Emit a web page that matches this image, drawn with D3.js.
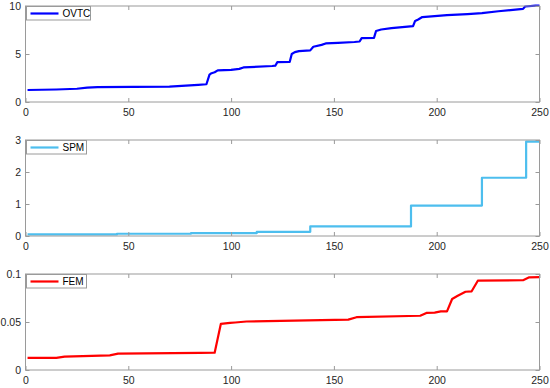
<!DOCTYPE html>
<html>
<head>
<meta charset="utf-8">
<script src="https://cdn.jsdelivr.net/npm/d3@7"></script>
<style>
  body { margin: 0; background: #fff; }
  svg { display: block; font-family: "Liberation Sans", Arial, sans-serif; }
</style>
</head>
<body>
<svg id="chart" width="550" height="388"></svg>
<script>
// breakpoints, [x, value]
const ovtc = [[1,1.25],[15,1.3],[25,1.38],[30,1.5],[35,1.55],[70,1.6],[78,1.7],[84,1.78],[88,1.85],
  [89.5,2.85],[90.5,3.0],[92,3.1],[93.5,3.3],[100,3.35],[104,3.45],[106,3.6],[120,3.75],[121.5,3.78],
  [122.5,4.15],[128.5,4.17],[129.5,5.0],[131,5.2],[133,5.3],[138.5,5.38],[140,5.75],[144,5.95],[146,6.1],
  [152,6.15],[160,6.25],[162.5,6.3],[163.5,6.65],[169.5,6.68],[170.5,7.4],[173,7.55],[178,7.7],[188.5,7.9],
  [189.5,8.45],[191,8.6],[193,8.85],[205,9.05],[215,9.15],[222,9.25],[230,9.45],[242,9.7],[243,9.95],
  [248,10.03],[250,10.05]];
const spm = [[1,0.05],[44.5,0.07],[80.5,0.09],[112.5,0.13],[138.5,0.3],[187.5,0.95],[222,1.82],[243.5,2.95],[250,2.95]];
const fem = [[1,0.0126],[15,0.0127],[19,0.014],[41,0.0153],[45,0.017],[85,0.0178],[92,0.018],[95,0.048],
  [99.5,0.049],[102,0.0495],[107.5,0.0505],[157,0.0525],[161,0.055],[192,0.0565],[195,0.0595],[199,0.0598],
  [202,0.061],[205,0.061],[207.5,0.074],[210,0.077],[214,0.0815],[217,0.082],[220,0.093],[242,0.0935],
  [245,0.0965],[250,0.0967]];

const xTicks = [0, 50, 100, 150, 200, 250];
const ovtcTicks = [0, 5, 10];
const spmTicks = [0, 1, 2, 3];
const femTicks = [0, 0.05, 0.1];

const svg = d3.select('#chart');
const x = d3.scaleLinear().domain([0, 250]).range([25.5, 539.5]);

function panel(data, name, color, ymax, yTicks, top, step) {
  let bottom = top + 96;
  let y = d3.scaleLinear().domain([0, ymax]).range([bottom, top]);
  let g = svg.append('g');

  let line = d3.line()
    .x(function(d) { return x(d[0]); })
    .y(function(d) { return y(d[1]); })
    .curve(step ? d3.curveStepAfter : d3.curveLinear);

  g.append('path').datum(data)
    .attr('d', line)
    .attr('fill', 'none')
    .attr('stroke', color)
    .attr('stroke-width', 2.2)
    .attr('stroke-linejoin', 'round');

  // box with inward ticks, matlab style
  g.append('rect')
    .attr('x', x(0)).attr('y', top)
    .attr('width', x(250) - x(0)).attr('height', bottom - top)
    .attr('fill', 'none').attr('stroke', '#9a9a9a').attr('stroke-width', 1);

  let ax = g.append('g').attr('transform', 'translate(0,' + bottom + ')')
    .call(d3.axisBottom(x).tickValues(xTicks).tickSize(-4).tickPadding(7).tickFormat(d3.format('d')));
  let axTop = g.append('g').attr('transform', 'translate(0,' + top + ')')
    .call(d3.axisTop(x).tickValues(xTicks).tickSize(-4).tickFormat(''));
  let ay = g.append('g').attr('transform', 'translate(' + x(0) + ',0)')
    .call(d3.axisLeft(y).tickValues(yTicks).tickSize(-4).tickPadding(4.5).tickFormat(function(d) { return String(d); }));
  let ayRight = g.append('g').attr('transform', 'translate(' + x(250) + ',0)')
    .call(d3.axisRight(y).tickValues(yTicks).tickSize(-4).tickFormat(''));

  [ax, axTop, ay, ayRight].forEach(function(a) {
    a.select('.domain').remove();
    a.selectAll('line').attr('stroke', '#9a9a9a');
    a.selectAll('text').attr('fill', '#262626').style('font-size', '10.5px');
  });

  // legend
  let lg = g.append('g').attr('transform', 'translate(' + (x(0) + 1) + ',' + (top + 0.5) + ')');
  let lw = name.length > 3 ? 64 : 60;
  lg.append('rect').attr('width', lw).attr('height', 13.5)
    .attr('fill', '#fff').attr('stroke', '#9a9a9a').attr('stroke-width', 1);
  lg.append('line').attr('x1', 4).attr('x2', 32).attr('y1', 7).attr('y2', 7)
    .attr('stroke', color).attr('stroke-width', 2.2);
  lg.append('text').attr('x', 36).attr('y', 10.5).text(name)
    .attr('fill', '#000').style('font-size', '10px');
}

panel(ovtc, 'OVTC', '#0000ff', 10, ovtcTicks, 6, false);
panel(spm, 'SPM', '#4dbeee', 3, spmTicks, 140, true);
panel(fem, 'FEM', '#ff0000', 0.1, femTicks, 274, false);
</script>
</body>
</html>
